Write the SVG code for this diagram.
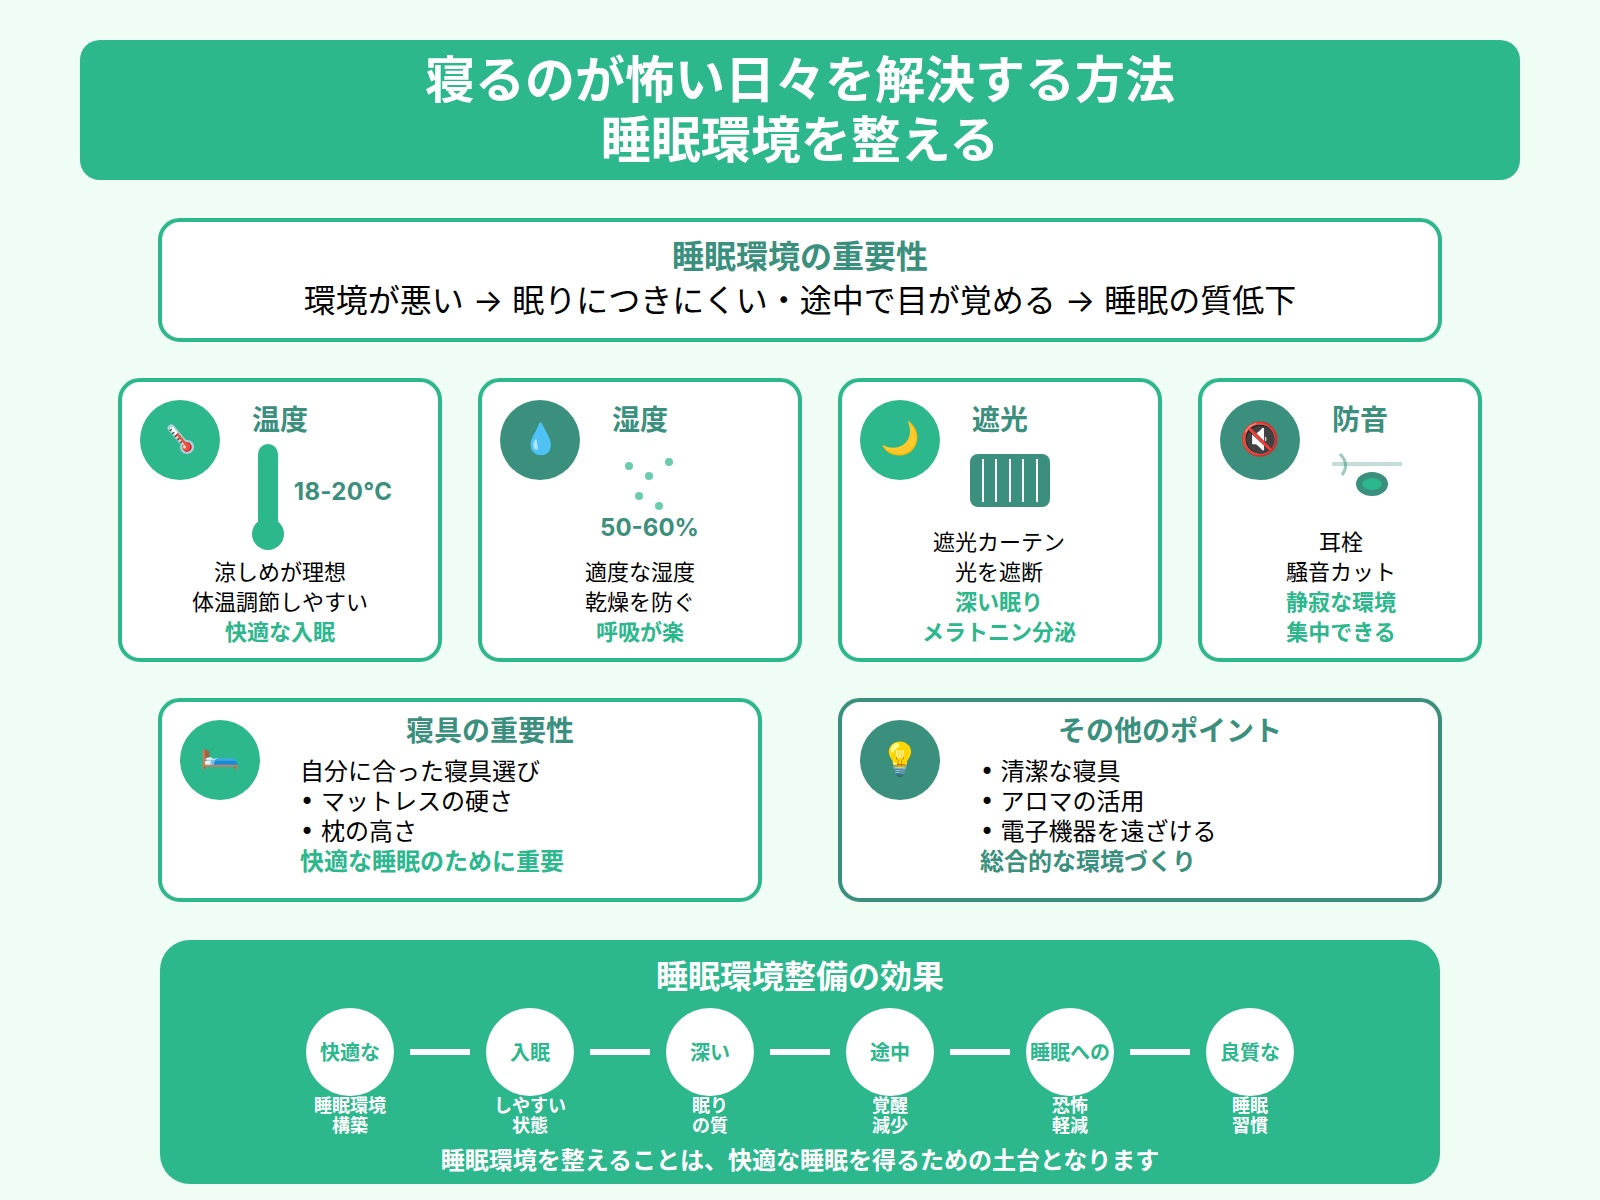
<svg xmlns="http://www.w3.org/2000/svg" width="1600" height="1200" viewBox="0 0 1600 1200">
<style>
text{font-family:"Noto Sans CJK JP","Noto Sans CJK SC",sans-serif;text-anchor:middle}
.c{fill:#fff;stroke:#2cb78c;stroke-width:4}
.d{fill:#fff;stroke:#3a8f7d;stroke-width:4}
.g{fill:#2cb78c}
.k{fill:#3a8f7d}
.t{font-size:28px;font-weight:700;fill:#3a8f7d}
.b{font-size:22px;fill:#000}
.e{font-size:22px;font-weight:700;fill:#2cb78c}
.l{font-size:24px;fill:#000;text-anchor:start}
.i{font-size:32px;fill:#000;word-spacing:1.8px}
.a{font-family:"Inter","Noto Sans CJK JP",sans-serif}
.p{font-family:"DejaVu Sans",sans-serif}
.n{font-size:20px;font-weight:700;fill:#2cb78c}
.s{font-size:18px;font-weight:700;fill:#fff}
.v{font-family:"Inter","Noto Sans CJK JP",sans-serif;font-size:24px;font-weight:700;fill:#3a8f7d}
</style>
<rect width="1600" height="1200" fill="#f0fdf4"/>
<g id="header"><rect class="g" x="80" y="40" width="1440" height="140" rx="20"/>
<text x="800" y="98" font-size="50" font-weight="700" fill="#fff">寝るのが怖い日々を解決する方法</text>
<text x="800" y="158" font-size="50" font-weight="700" fill="#fff">睡眠環境を整える</text></g>
<g id="importance"><rect class="c" x="160" y="220" width="1280" height="120" rx="20"/>
<text x="800" y="268" font-size="32" font-weight="700" fill="#3a8f7d">睡眠環境の重要性</text>
<text class="i" x="800" y="312">環境が悪い <tspan class="a">→</tspan> 眠りにつきにくい・途中で目が覚める <tspan class="a">→</tspan> 睡眠の質低下</text></g>
<g id="temp"><rect class="c" x="120" y="380" width="320" height="280" rx="20"/>
<circle class="g" cx="180" cy="440" r="40"/><text x="180" y="450" font-size="32" transform="rotate(-40 180 439)">🌡️</text>
<text class="t" x="280" y="430">温度</text>
<rect class="g" x="258" y="444" width="20" height="90" rx="10"/><circle class="g" cx="268" cy="534" r="16"/>
<text class="v" x="343" y="500" letter-spacing=".3">18-20°C</text>
<text class="b" x="280" y="579.5">涼しめが理想</text><text class="b" x="280" y="609.5">体温調節しやすい</text><text class="e" x="280" y="639.5">快適な入眠</text></g>
<g id="humidity"><rect class="c" x="480" y="380" width="320" height="280" rx="20"/>
<circle class="k" cx="540" cy="440" r="40"/><text x="540" y="449" font-size="30">💧</text>
<text class="t" x="640" y="430">湿度</text>
<g class="g" opacity=".7"><circle cx="629" cy="466" r="4"/><circle cx="649" cy="476" r="4"/><circle cx="669" cy="462" r="4"/><circle cx="639" cy="496" r="4"/><circle cx="659" cy="506" r="4"/></g>
<text class="v" x="649.5" y="536">50-60%</text>
<text class="b" x="640" y="579.5">適度な湿度</text><text class="b" x="640" y="609.5">乾燥を防ぐ</text><text class="e" x="640" y="639.5">呼吸が楽</text></g>
<g id="light"><rect class="c" x="840" y="380" width="320" height="280" rx="20"/>
<circle class="g" cx="900" cy="440" r="40"/><text x="900" y="449" font-size="32">🌙</text>
<text class="t" x="1000" y="430">遮光</text>
<rect class="k" x="970" y="454" width="80" height="53" rx="8"/>
<g stroke="#fff" stroke-width="2"><path d="M983 459V502M996 459V502M1010 459V502M1023 459V502M1037 459V502"/></g>
<text class="b" x="999" y="549.5">遮光カーテン</text><text class="b" x="999" y="579.5">光を遮断</text><text class="e" x="999" y="609.5">深い眠り</text><text class="e" x="999" y="639.5">メラトニン分泌</text></g>
<g id="sound"><rect class="c" x="1200" y="380" width="280" height="280" rx="20"/>
<circle class="k" cx="1260" cy="440" r="40"/><text x="1260" y="450" font-size="32">🔇</text>
<text class="t" x="1360" y="430">防音</text>
<path d="M1332 464H1402" stroke="#3a8f7d" stroke-width="4" opacity=".3" fill="none"/>
<path d="M1340 454Q1350 464 1342 475" stroke="#3a8f7d" stroke-width="3" opacity=".5" fill="none"/>
<ellipse class="k" cx="1372" cy="484" rx="16" ry="12"/><ellipse class="g" cx="1372" cy="484" rx="10" ry="6"/>
<text class="b" x="1341" y="549.5">耳栓</text><text class="b" x="1341" y="579.5">騒音カット</text><text class="e" x="1341" y="609.5">静寂な環境</text><text class="e" x="1341" y="639.5">集中できる</text></g>
<g id="bedding"><rect class="c" x="160" y="700" width="600" height="200" rx="20"/>
<circle class="g" cx="220" cy="760" r="40"/><text x="220" y="763" font-size="32">🛏️</text>
<text class="t" x="490" y="740.5">寝具の重要性</text>
<text class="l" x="300" y="780">自分に合った寝具選び</text><text class="l" x="300" y="810"><tspan class="p">•</tspan><tspan x="321">マットレスの硬さ</tspan></text><text class="l" x="300" y="839.5"><tspan class="p">•</tspan><tspan x="321">枕の高さ</tspan></text>
<text class="l" x="300" y="870" font-weight="700" style="fill:#2cb78c">快適な睡眠のために重要</text></g>
<g id="other"><rect class="d" x="840" y="700" width="600" height="200" rx="20"/>
<circle class="k" cx="900" cy="760" r="40"/><text x="900" y="770" font-size="32">💡</text>
<text class="t" x="1170" y="740.5">その他のポイント</text>
<text class="l" x="980" y="780"><tspan class="p">•</tspan><tspan x="1000.5">清潔な寝具</tspan></text><text class="l" x="980" y="810"><tspan class="p">•</tspan><tspan x="1000.5">アロマの活用</tspan></text><text class="l" x="980" y="839.5"><tspan class="p">•</tspan><tspan x="1000.5">電子機器を遠ざける</tspan></text>
<text class="l" x="980" y="870" font-weight="700" style="fill:#3a8f7d">総合的な環境づくり</text></g>
<g id="effects"><rect class="g" x="160" y="940" width="1280" height="244" rx="30"/>
<text x="800" y="988" font-size="32" font-weight="700" fill="#fff">睡眠環境整備の効果</text>
<g id="connectors" fill="#fff"><rect x="410" y="1049" width="60" height="6"/><rect x="590" y="1049" width="60" height="6"/><rect x="770" y="1049" width="60" height="6"/><rect x="950" y="1049" width="60" height="6"/><rect x="1130" y="1049" width="60" height="6"/></g>
<g id="e1"><circle cx="350" cy="1052" r="44" fill="#fff"/><text class="n" x="350" y="1060">快適な</text><text class="s" x="350" y="1112">睡眠環境</text><text class="s" x="350" y="1132">構築</text></g>
<g id="e2"><circle cx="530" cy="1052" r="44" fill="#fff"/><text class="n" x="530" y="1060">入眠</text><text class="s" x="530" y="1112">しやすい</text><text class="s" x="530" y="1132">状態</text></g>
<g id="e3"><circle cx="710" cy="1052" r="44" fill="#fff"/><text class="n" x="710" y="1060">深い</text><text class="s" x="710" y="1112">眠り</text><text class="s" x="710" y="1132">の質</text></g>
<g id="e4"><circle cx="890" cy="1052" r="44" fill="#fff"/><text class="n" x="890" y="1060">途中</text><text class="s" x="890" y="1112">覚醒</text><text class="s" x="890" y="1132">減少</text></g>
<g id="e5"><circle cx="1070" cy="1052" r="44" fill="#fff"/><text class="n" x="1070" y="1060">睡眠への</text><text class="s" x="1070" y="1112">恐怖</text><text class="s" x="1070" y="1132">軽減</text></g>
<g id="e6"><circle cx="1250" cy="1052" r="44" fill="#fff"/><text class="n" x="1250" y="1060">良質な</text><text class="s" x="1250" y="1112">睡眠</text><text class="s" x="1250" y="1132">習慣</text></g>
<text x="800" y="1169" font-size="24" font-weight="700" fill="#fff">睡眠環境を整えることは、快適な睡眠を得るための土台となります</text></g>
</svg>
